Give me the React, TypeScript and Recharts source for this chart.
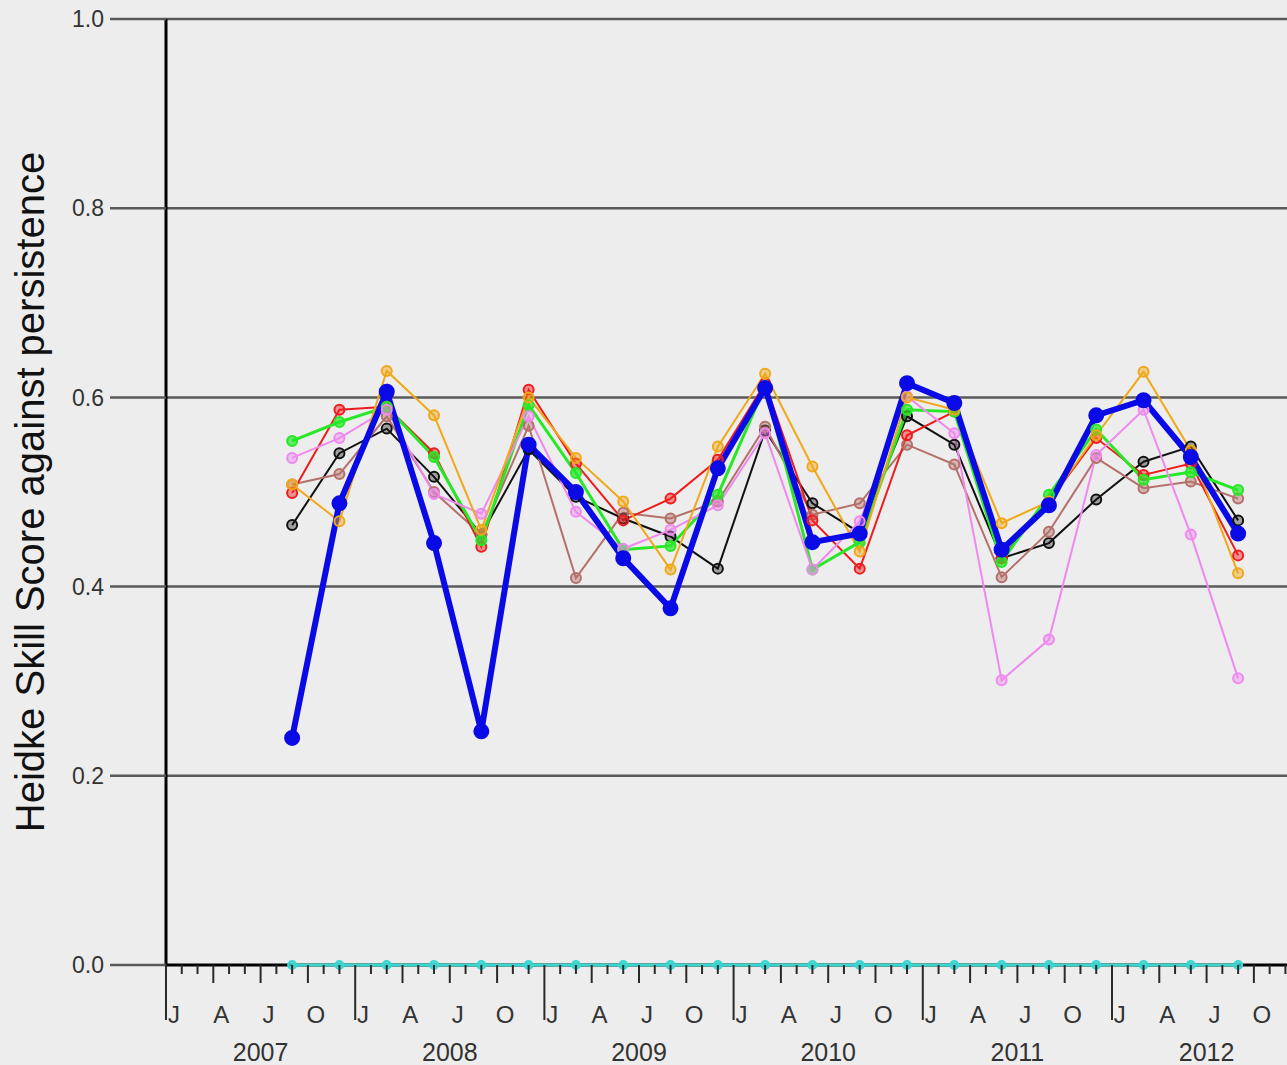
import React from "react";
import { LineChart, Line, XAxis, YAxis, CartesianGrid, Label } from "recharts";

// months since Jan 2007, one point per season
const months = [8, 11, 14, 17, 20, 23, 26, 29, 32, 35, 38, 41, 44, 47, 50, 53, 56, 59, 62, 65, 68];

const cyanHss = [0, 0, 0, 0, 0, 0, 0, 0, 0, 0, 0, 0, 0, 0, 0, 0, 0, 0, 0, 0, 0];
const blackHss = [0.465, 0.541, 0.567, 0.516, 0.455, 0.545, 0.495, 0.472, 0.453, 0.419, 0.565, 0.488, 0.457, 0.58, 0.55, 0.43, 0.446, 0.492, 0.532, 0.548, 0.47];
const brownHss = [0.508, 0.519, 0.58, 0.5, 0.455, 0.57, 0.409, 0.478, 0.472, 0.49, 0.569, 0.476, 0.488, 0.55, 0.529, 0.41, 0.458, 0.536, 0.504, 0.511, 0.493];
const redHss = [0.499, 0.587, 0.59, 0.541, 0.442, 0.608, 0.53, 0.47, 0.493, 0.534, 0.615, 0.47, 0.419, 0.56, 0.585, 0.43, 0.49, 0.557, 0.518, 0.53, 0.433];
const greenHss = [0.554, 0.574, 0.59, 0.537, 0.449, 0.592, 0.52, 0.439, 0.443, 0.497, 0.612, 0.418, 0.447, 0.587, 0.585, 0.426, 0.497, 0.566, 0.513, 0.521, 0.502];
const violetHss = [0.536, 0.557, 0.587, 0.498, 0.477, 0.58, 0.479, 0.44, 0.46, 0.486, 0.562, 0.418, 0.469, 0.601, 0.562, 0.301, 0.344, 0.539, 0.587, 0.455, 0.303];
const orangeHss = [0.508, 0.469, 0.628, 0.581, 0.46, 0.6, 0.536, 0.49, 0.418, 0.548, 0.625, 0.527, 0.437, 0.6, 0.587, 0.467, 0.49, 0.56, 0.627, 0.544, 0.414];
const blueHss = [0.24, 0.488, 0.606, 0.446, 0.247, 0.55, 0.5, 0.43, 0.377, 0.525, 0.61, 0.447, 0.456, 0.615, 0.594, 0.439, 0.486, 0.581, 0.597, 0.537, 0.456];

const yTicks = [0, 0.2, 0.4, 0.6, 0.8, 1.0];
const quarterLetters = ["J", "A", "J", "O"];
const years = ["2007", "2008", "2009", "2010", "2011", "2012"];

const monthTicks = Array.from({ length: 72 }, (_, i) => i);
const letterTicks = Array.from({ length: 24 }, (_, i) => i * 3 + 0.5);
const xTicks = [...monthTicks, ...letterTicks];

const rows = months.map((m, i) => ({
  m,
  cyan: cyanHss[i],
  black: blackHss[i],
  brown: brownHss[i],
  red: redHss[i],
  green: greenHss[i],
  violet: violetHss[i],
  orange: orangeHss[i],
  blue: blueHss[i],
}));

const series = [
  { key: "cyan", color: "#3ad6d0", width: 3, r: 4, fillOpacity: 0.8 },
  { key: "black", color: "#111111", width: 2, r: 5, fillOpacity: 0.35 },
  { key: "brown", color: "#b4706a", width: 2, r: 5, fillOpacity: 0.45 },
  { key: "red", color: "#ee1c1c", width: 2, r: 5, fillOpacity: 0.45 },
  { key: "green", color: "#26e826", width: 3, r: 5, fillOpacity: 0.7 },
  { key: "violet", color: "#ee8aee", width: 2, r: 5, fillOpacity: 0.45 },
  { key: "orange", color: "#f0a818", width: 2, r: 5, fillOpacity: 0.45 },
  { key: "blue", color: "#0a0ae6", width: 6, r: 7, fillOpacity: 1 },
];

const FONT = "'Liberation Sans', Arial, Helvetica, sans-serif";

const XTick = (props: any) => {
  const { x, y, payload } = props;
  const v = payload.value as number;
  if (Number.isInteger(v)) {
    const len = v % 12 === 0 ? 55 : v % 3 === 0 ? 18 : 9;
    return (
      <g>
        <line x1={x} x2={x} y1={y} y2={y + len} stroke="#2a2a2a" strokeWidth={2} />
        {v % 12 === 6 && (
          <text x={x} y={y + 96} textAnchor="middle" fontSize={25} fill="#333" fontFamily={FONT}>
            {years[Math.floor(v / 12)]}
          </text>
        )}
      </g>
    );
  }
  const q = Math.floor(v / 3) % 4;
  return (
    <text x={x} y={y + 58} textAnchor="middle" fontSize={24} fill="#333" fontFamily={FONT}>
      {quarterLetters[q]}
    </text>
  );
};

// grid line at 0.0 doubles as the black x axis line, so the cyan series sits on top of it
const GridLine = (props: any) => {
  const { x1, x2, y1, y2, index } = props;
  const isBase = index === 0;
  return (
    <line
      x1={x1}
      x2={x2}
      y1={y1}
      y2={y2}
      stroke={isBase ? "#000" : "#5a5a5a"}
      strokeWidth={isBase ? 3 : 2.5}
    />
  );
};

const YTitle = (props: any) => {
  const vb = props.viewBox || {};
  const cy = (vb.y ?? 19) + (vb.height ?? 946) / 2;
  return (
    <text
      transform={`translate(44, ${cy}) rotate(-90)`}
      textAnchor="middle"
      fontSize={40}
      fill="#111"
      fontFamily={FONT}
    >
      Heidke Skill Score against persistence
    </text>
  );
};

export default function App() {
  return (
    <div style={{ position: "absolute", left: 0, top: 0, width: 1287, height: 1065, background: "#ededed" }}>
      <LineChart width={1287} height={1065} data={rows} margin={{ top: 19, right: 0, bottom: 0, left: 0 }}>
        <CartesianGrid horizontal={GridLine} vertical={false} />
        <XAxis
          dataKey="m"
          type="number"
          domain={[0, 71.1]}
          allowDataOverflow
          ticks={xTicks}
          interval={0}
          height={100}
          tickSize={0}
          tickMargin={0}
          tickLine={false}
          axisLine={false}
          tick={<XTick />}
        />
        <YAxis
          domain={[0, 1]}
          ticks={yTicks}
          width={166}
          tickSize={56}
          tickMargin={6}
          tickLine={{ stroke: "#5a5a5a", strokeWidth: 2.5 }}
          axisLine={{ stroke: "#000", strokeWidth: 3 }}
          tick={{ fill: "#333", fontSize: 23, fontFamily: FONT }}
          tickFormatter={(v: number) => v.toFixed(1)}
        >
          <Label content={<YTitle />} />
        </YAxis>
        {series.map((s) => (
          <Line
            key={s.key}
            dataKey={s.key}
            type="linear"
            stroke={s.color}
            strokeWidth={s.width}
            dot={{ r: s.r, fill: s.color, fillOpacity: s.fillOpacity, stroke: s.color, strokeWidth: 2 }}
            activeDot={false}
            isAnimationActive={false}
          />
        ))}
      </LineChart>
    </div>
  );
}
